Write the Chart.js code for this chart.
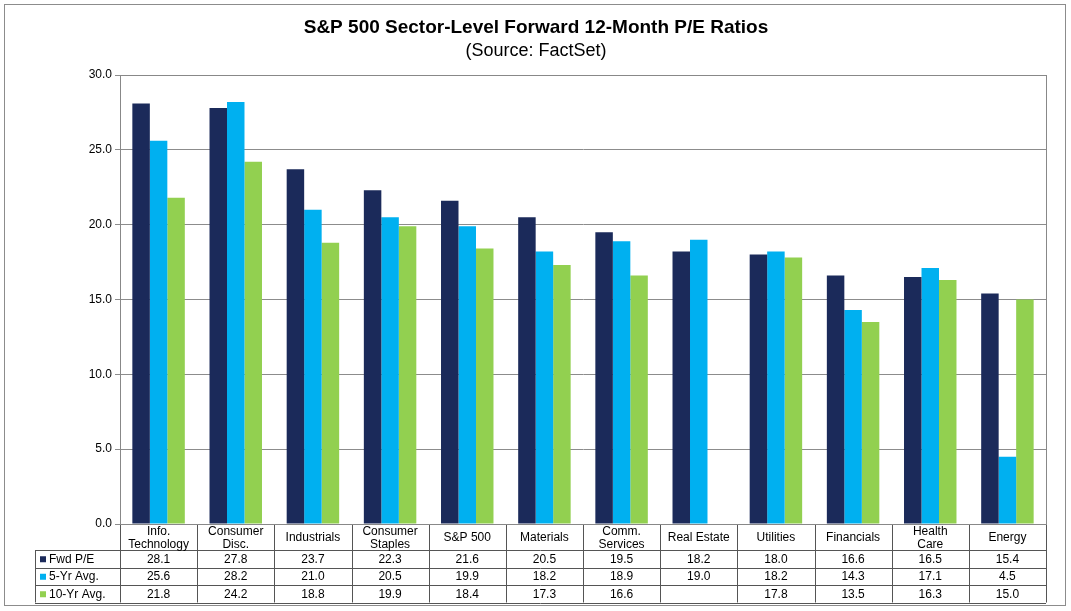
<!DOCTYPE html>
<html><head><meta charset="utf-8">
<script src="https://cdn.jsdelivr.net/npm/chart.js@4/dist/chart.umd.min.js"></script>
<style>html,body{margin:0;padding:0;background:#fff}#wrap{width:1071px;height:611px}</style>
</head><body><div id="wrap"><canvas id="c" width="1071" height="611"></canvas></div>
<script>
var categories = [['Info.','Technology'],['Consumer','Disc.'],['Industrials'],['Consumer','Staples'],['S&P 500'],['Materials'],['Comm.','Services'],['Real Estate'],['Utilities'],['Financials'],['Health','Care'],['Energy']];
var seriesNames = ['Fwd P/E', '5-Yr Avg.', '10-Yr Avg.'];
var fwdPE   = [28.1, 27.8, 23.7, 22.3, 21.6, 20.5, 19.5, 18.2, 18.0, 16.6, 16.5, 15.4];
var avg5yr  = [25.6, 28.2, 21.0, 20.5, 19.9, 18.2, 18.9, 19.0, 18.2, 14.3, 17.1, 4.5];
var avg10yr = [21.8, 24.2, 18.8, 19.9, 18.4, 17.3, 16.6, null, 17.8, 13.5, 16.3, 15.0];
var seriesColors = ['#1B2A5A', '#00B0F0', '#92D050'];

var FONT = "'Liberation Sans', Arial, sans-serif";

// table + title + frame drawn under the chart area
var tablePlugin = {
    id: 'table',
    afterDraw: function (chart) {
        var ctx = chart.ctx, xs = chart.scales.x, area = chart.chartArea;
        var n = categories.length;
        var step = (area.right - area.left) / n;
        var top = area.bottom, hdrB = top + 26, rowH = 17.5;
        var tabL = 35;
        ctx.save();
        // frame
        ctx.strokeStyle = '#8c8c8c'; ctx.lineWidth = 1;
        ctx.strokeRect(4.5, 4.5, 1061, 601);
        // title
        ctx.fillStyle = '#000'; ctx.textAlign = 'center'; ctx.textBaseline = 'middle';
        ctx.font = 'bold 19px ' + FONT;
        ctx.fillText('S&P 500 Sector-Level Forward 12-Month P/E Ratios', 536, 28);
        ctx.font = '18px ' + FONT;
        ctx.fillText('(Source: FactSet)', 536, 51);
        // grid lines of table
        ctx.strokeStyle = '#555';
        ctx.beginPath();
        for (var i = 0; i <= n; i++) {
            var x = Math.round(area.left + i * step) + 0.5;
            ctx.moveTo(x, top); ctx.lineTo(x, hdrB + 3 * rowH);
        }
        ctx.moveTo(tabL + 0.5, hdrB); ctx.lineTo(tabL + 0.5, hdrB + 3 * rowH);
        for (var r = 0; r <= 3; r++) {
            var y = Math.round(hdrB + r * rowH) + 0.5;
            ctx.moveTo(tabL, y); ctx.lineTo(area.right, y);
        }
        ctx.stroke();
        // header labels
        ctx.fillStyle = '#000';
        ctx.font = '12px ' + FONT;
        categories.forEach(function (lab, i) {
            var cx = xs.getPixelForValue(i);
            if (lab.length === 1) ctx.fillText(lab[0], cx, top + 14);
            else { ctx.fillText(lab[0], cx, top + 8); ctx.fillText(lab[1], cx, top + 21); }
        });
        // rows
        var data = [fwdPE, avg5yr, avg10yr];
        data.forEach(function (arr, r) {
            var cy = hdrB + r * rowH + rowH / 2 + 0.5;
            ctx.fillStyle = seriesColors[r];
            ctx.fillRect(tabL + 5, cy - 3, 6, 6);
            ctx.fillStyle = '#000'; ctx.textAlign = 'left';
            ctx.fillText(seriesNames[r], tabL + 14, cy);
            ctx.textAlign = 'center';
            arr.forEach(function (v, i) {
                if (v !== null) ctx.fillText(v.toFixed(1), xs.getPixelForValue(i), cy);
            });
        });
        ctx.restore();
    }
};

new Chart(document.getElementById('c'), {
    type: 'bar',
    data: {
        labels: categories.map(function (c) { return c.join(' '); }),
        datasets: [fwdPE, avg5yr, avg10yr].map(function (d, i) {
            return { label: seriesNames[i], data: d, backgroundColor: seriesColors[i],
                     categoryPercentage: 0.68, barPercentage: 1.0 };
        })
    },
    options: {
        responsive: false,
        animation: false,
        layout: { padding: { top: 75, right: 25, bottom: 79, left: 0 } },
        plugins: { legend: { display: false }, title: { display: false }, tooltip: { enabled: false } },
        scales: {
            x: {
                ticks: { display: false },
                grid: { display: false },
                border: { color: '#555' }
            },
            y: {
                min: 0, max: 30,
                ticks: { stepSize: 5, color: '#000', font: { family: FONT, size: 12 },
                         callback: function (v) { return v.toFixed(1); } },
                grid: { color: '#8c8c8c', drawTicks: true, tickLength: 5 },
                border: { color: '#555' },
                afterFit: function (s) { s.width = 120; }
            }
        }
    },
    plugins: [tablePlugin, {
        id: 'plotBorder',
        afterDraw: function (chart) {
            var a = chart.chartArea, ctx = chart.ctx;
            ctx.save(); ctx.strokeStyle = '#888';
            ctx.strokeRect(a.left + 0.5, a.top + 0.5, a.right - a.left, a.bottom - a.top);
            ctx.restore();
        }
    }]
});
</script></body></html>
